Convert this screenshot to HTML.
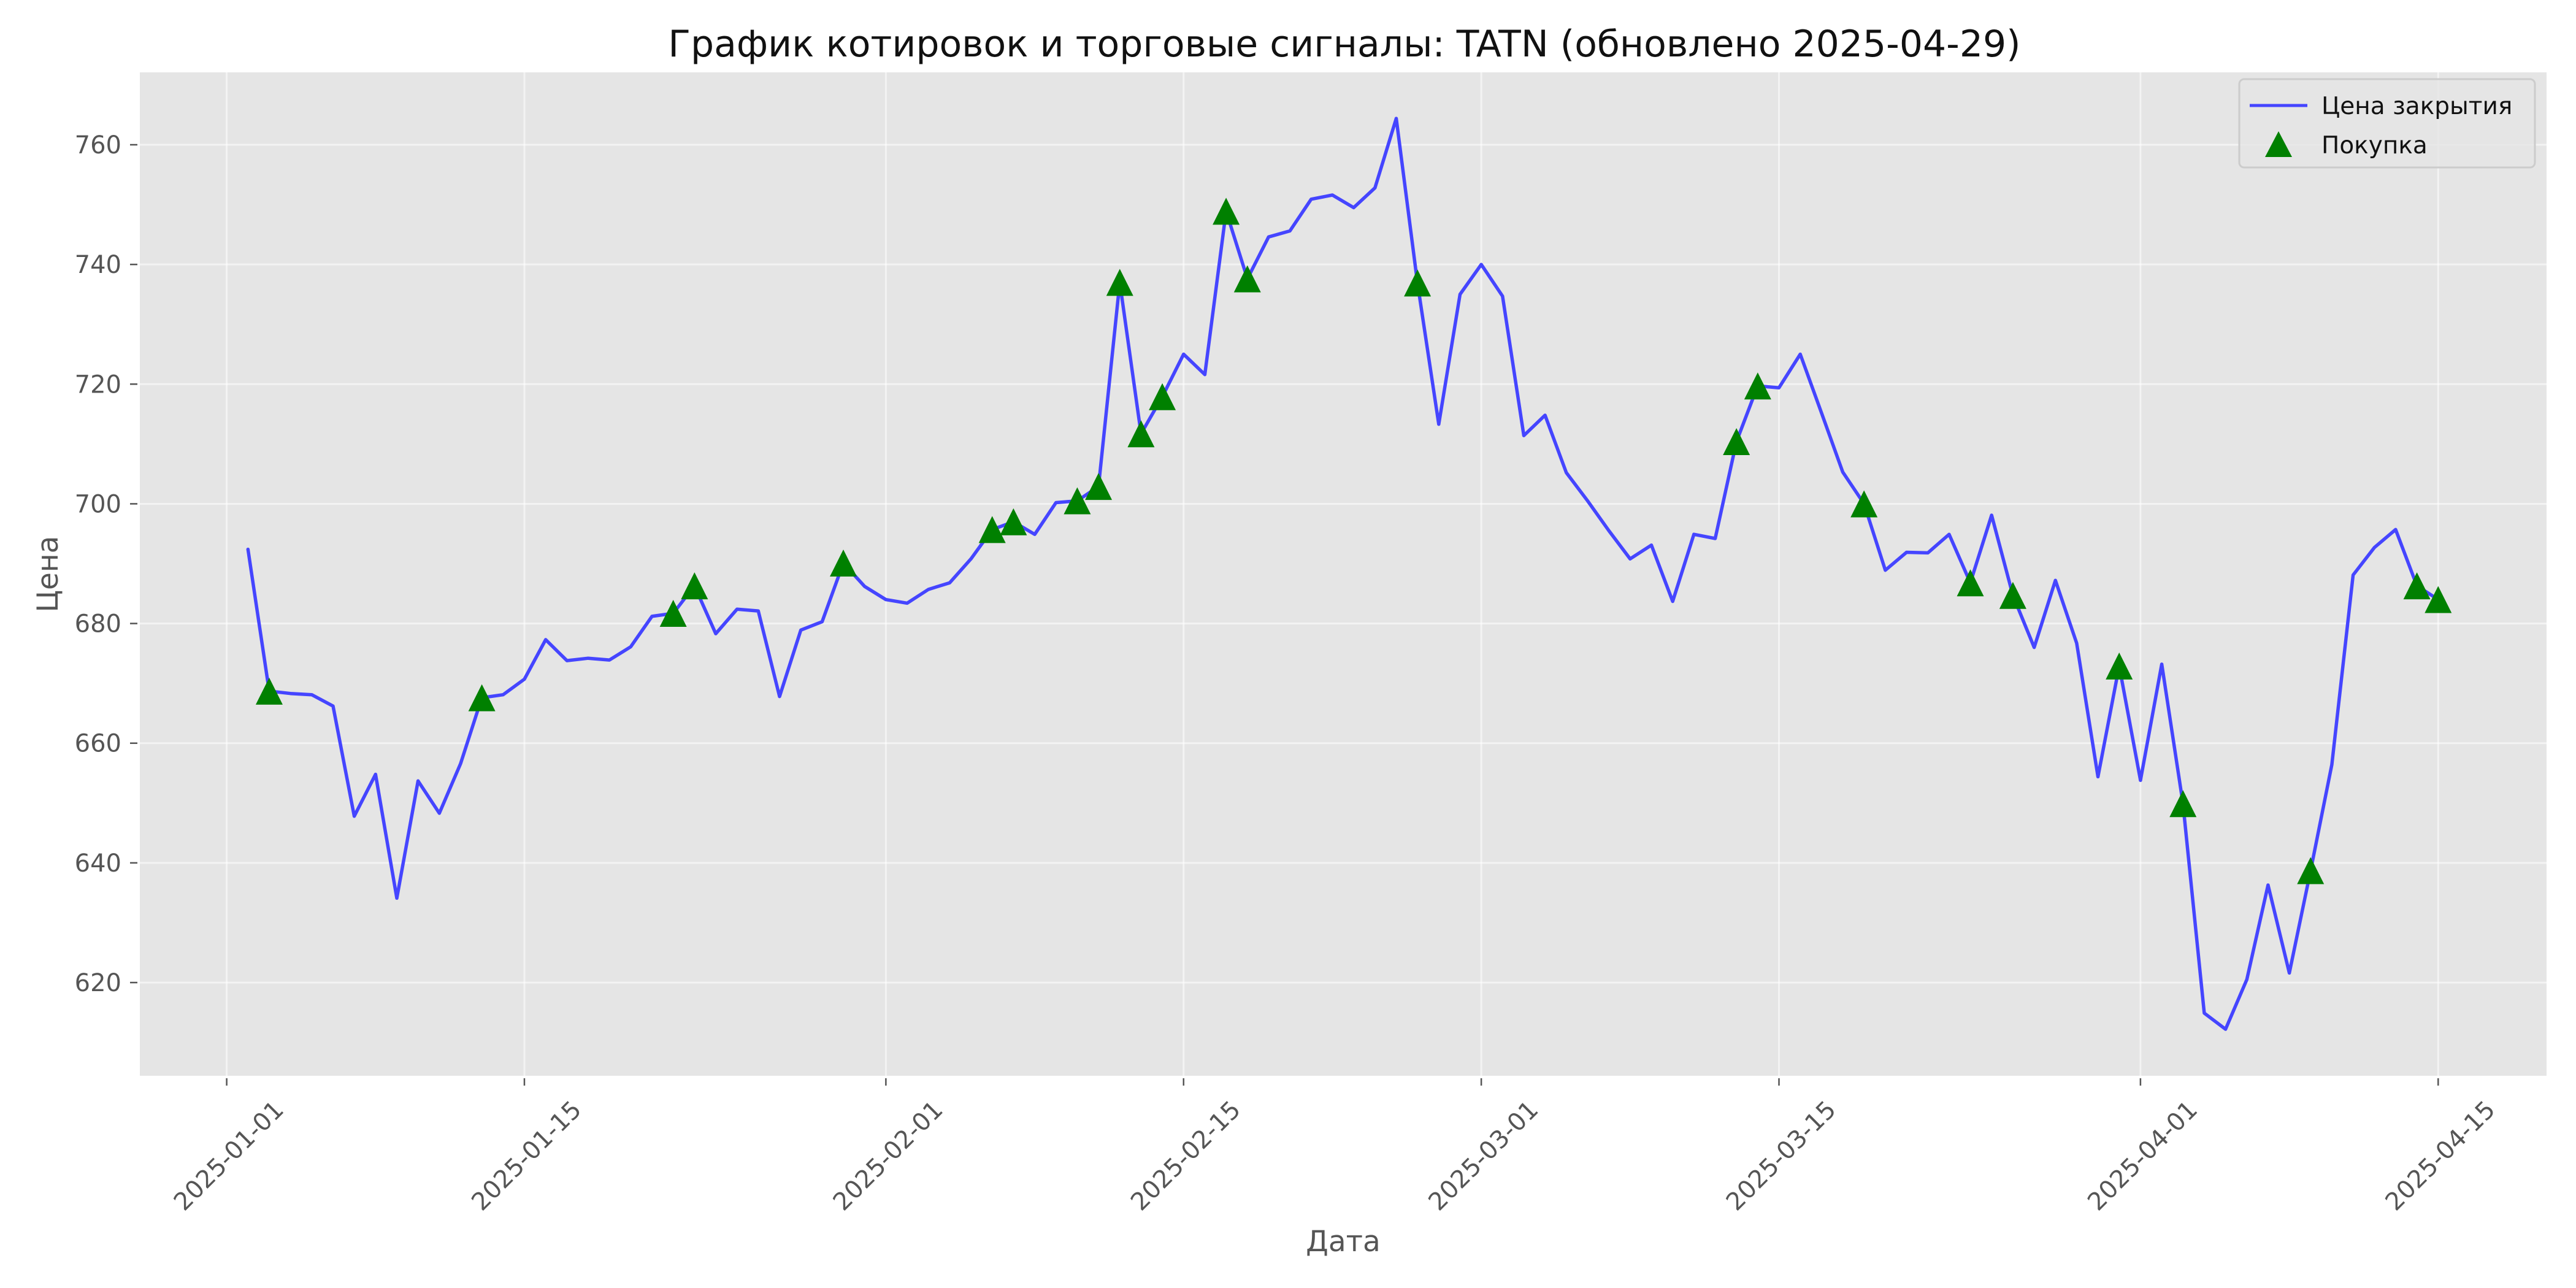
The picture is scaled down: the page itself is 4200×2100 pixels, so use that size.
<!DOCTYPE html>
<html><head><meta charset="utf-8"><style>
html,body{margin:0;padding:0;background:#fff}
svg{display:block}
text{font-family:"DejaVu Sans","Liberation Sans",sans-serif}
</style></head><body>
<svg id="chart" width="4200" height="2100" viewBox="0 0 4200 2100" xmlns="http://www.w3.org/2000/svg">
<rect x="0" y="0" width="4200" height="2100" fill="#ffffff"/>
<rect x="228" y="118" width="3924" height="1636" fill="#e5e5e5"/>
<g id="grid"></g>
<g id="ticks"></g>
<g id="series"></g>
<text x="2192" y="92" font-size="60" text-anchor="middle" fill="#111">График котировок и торговые сигналы: TATN (обновлено 2025-04-29)</text>
<text x="2190" y="2040" font-size="47" text-anchor="middle" fill="#555">Дата</text>
<text x="0" y="0" font-size="47" text-anchor="middle" fill="#555" transform="translate(94,936) rotate(-90)">Цена</text>
<g>
<rect x="3651" y="129" width="482" height="144" rx="8" fill="#e5e5e5" fill-opacity="0.8" stroke="#cccccc" stroke-width="3"/>
<line x1="3668" y1="172" x2="3762" y2="172" stroke="#4545ff" stroke-width="5"/>
<polygon points="3715,214 3693,256 3737,256" fill="#008000"/>
<text x="3785" y="186" font-size="39" fill="#111">Цена закрытия</text>
<text x="3785" y="250" font-size="39" fill="#111">Покупка</text>
</g>
</svg>
<script>
const startDate = "2025-01-02";
const closePrices = [692.4,668.7,668.3,668.1,666.2,647.8,654.8,634.1,653.7,648.3,656.6,667.6,668.1,670.7,677.3,673.8,674.2,673.9,676.1,681.2,681.7,686.3,678.3,682.4,682.1,667.8,678.9,680.3,690.1,686.2,684.0,683.4,685.7,686.8,690.8,695.7,697.0,694.9,700.2,700.5,702.9,737.0,711.7,717.9,725.0,721.6,748.9,737.6,744.6,745.6,750.9,751.6,749.5,752.8,764.4,736.9,713.3,735.0,740.0,734.7,711.4,714.8,705.2,700.5,695.5,690.8,693.1,683.7,694.9,694.2,710.4,719.7,719.4,725.0,715.2,705.3,700.0,688.9,691.9,691.8,694.9,686.8,698.1,684.7,676.0,687.2,676.7,654.4,672.9,653.8,673.2,649.9,614.9,612.2,620.5,636.3,621.6,638.7,656.4,688.1,692.7,695.7,686.3,684.0];
const buyDates = ["2025-01-03","2025-01-13","2025-01-22","2025-01-23","2025-01-30","2025-02-06","2025-02-07","2025-02-10","2025-02-11","2025-02-12","2025-02-13","2025-02-14","2025-02-17","2025-02-18","2025-02-26","2025-03-13","2025-03-14","2025-03-19","2025-03-24","2025-03-26","2025-03-31","2025-04-03","2025-04-09","2025-04-14","2025-04-15"];
const yTicks = [620,640,660,680,700,720,740,760];
const xTickLabels = ["2025-01-01","2025-01-15","2025-02-01","2025-02-15","2025-03-01","2025-03-15","2025-04-01","2025-04-15"];

const NS="http://www.w3.org/2000/svg";
const DAY=86400000, ORIGIN=Date.UTC(2025,0,1);
function dayOf(s){const p=s.split("-").map(Number);return (Date.UTC(p[0],p[1]-1,p[2])-ORIGIN)/DAY;}
function xScale(d){return 369.6+34.67*d;}
function yScale(v){return 1602-(v-620)*9.757;}
function mk(tag,parent,attrs){const e=document.createElementNS(NS,tag);for(const k in attrs)e.setAttribute(k,attrs[k]);parent.appendChild(e);return e;}
const grid=document.getElementById("grid"), ticks=document.getElementById("ticks"), series=document.getElementById("series");

yTicks.forEach(v=>{
  const y=yScale(v);
  const g=mk("line",grid,{x1:228,x2:4152,y1:y,y2:y,stroke:"#ffffff","stroke-width":3,"stroke-opacity":0.55});
  
  
  const t=mk("line",ticks,{x1:212,x2:224,y1:y,y2:y,stroke:"#555","stroke-width":2.5});
  
  
  const l=mk("text",ticks,{x:198,y:y+14,"font-size":40,"text-anchor":"end",fill:"#555"});
  l.textContent=String(v);
  
  
});
xTickLabels.forEach(s=>{
  const x=xScale(dayOf(s));
  const g=mk("line",grid,{x1:x,x2:x,y1:118,y2:1754,stroke:"#ffffff","stroke-width":3,"stroke-opacity":0.55});
  
  
  const t=mk("line",ticks,{x1:x,x2:x,y1:1758,y2:1770,stroke:"#555","stroke-width":2.5});
  
  
  const l=mk("text",ticks,{x:0,y:14,"font-size":40,"text-anchor":"middle",fill:"#555",transform:`translate(${x+3},${1884}) rotate(-45)`});
  l.textContent=s;
  
  
});

const d0=dayOf(startDate);
const pts=closePrices.map((v,i)=>xScale(d0+i).toFixed(1)+","+yScale(v).toFixed(1)).join(" ");
const line=mk("polyline",series,{points:pts,fill:"none",stroke:"#4545ff","stroke-width":5.5,"stroke-linejoin":"round","stroke-linecap":"round"});



buyDates.forEach(s=>{
  const d=dayOf(s), v=closePrices[d-d0];
  const x=xScale(d), y=yScale(v), r=22;
  const p=mk("polygon",series,{points:`${x},${y-r} ${x-r},${y+r} ${x+r},${y+r}`,fill:"#008000"});
  
  
});
</script>
</body></html>
